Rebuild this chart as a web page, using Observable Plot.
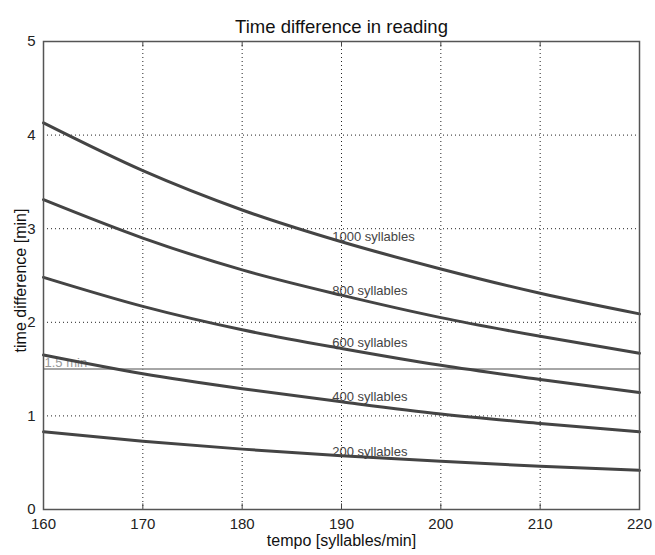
<!DOCTYPE html>
<html><head><meta charset="utf-8">
<script src="https://cdn.jsdelivr.net/npm/d3@7"></script>
<script src="https://cdn.jsdelivr.net/npm/@observablehq/plot@0.6"></script>
<style>
body{margin:0;background:#fff;}
#chart svg{display:block;font-family:"Liberation Sans",Arial,Helvetica,sans-serif;}
</style>
</head><body><div id="chart"></div><script>
const title = "Time difference in reading";
const xLabel = "tempo [syllables/min]";
const yLabel = "time difference [min]";
const tempo = [160, 170, 180, 190, 200, 210, 220];
const s1000 = [4.13, 3.62, 3.20, 2.86, 2.57, 2.31, 2.09];
const s800  = [3.31, 2.90, 2.56, 2.29, 2.05, 1.85, 1.67];
const s600  = [2.48, 2.17, 1.92, 1.72, 1.54, 1.39, 1.25];
const s400  = [1.65, 1.45, 1.29, 1.15, 1.02, 0.92, 0.83];
const s200  = [0.83, 0.73, 0.645, 0.575, 0.515, 0.462, 0.418];
const seriesNames = ["1000 syllables", "800 syllables", "600 syllables", "400 syllables", "200 syllables"];
const seriesValues = [s1000, s800, s600, s400, s200];
const labelX = 189.07;
const labelY = [2.91, 2.34, 1.78, 1.20, 0.62];
const refValue = 1.5;
const refLabel = "1.5 min";
const refLabelY = 1.563;
const xTicks = [160, 170, 180, 190, 200, 210, 220];
const yTicks = [0, 1, 2, 3, 4, 5];

const rows = [];
seriesNames.forEach((name, i) => tempo.forEach((t, j) => rows.push({series: name, tempo: t, value: seriesValues[i][j]})));
const labels = seriesNames.map((name, i) => ({name, x: labelX, y: labelY[i]}));

const chart = Plot.plot({
  width: 655, height: 555,
  marginLeft: 43, marginRight: 16, marginTop: 41, marginBottom: 46,
  style: {fontSize: "15px", color: "#222", background: "#fff"},
  x: {domain: [160, 220]},
  y: {domain: [0, 5]},
  marks: [
    Plot.gridX(xTicks.slice(1, -1), {stroke: "#222", strokeOpacity: 1, strokeDasharray: "1,3"}),
    Plot.gridY(yTicks.slice(1, -1), {stroke: "#222", strokeOpacity: 1, strokeDasharray: "1,3"}),
    Plot.ruleY([refValue], {stroke: "#888", strokeWidth: 1.5}),
    Plot.text([refLabel], {x: 160, y: refLabelY, text: d => d, textAnchor: "start", dx: 1, fill: "#999", fontSize: 13}),
    Plot.line(rows, {x: "tempo", y: "value", z: "series", stroke: "#444", strokeWidth: 3, curve: "monotone-x"}),
    Plot.text(labels, {x: "x", y: "y", text: "name", textAnchor: "start", fill: "#444", fontSize: 13}),
    Plot.ruleX(xTicks.slice(1, -1), {x: d => d, y1: 0, y2: 0.06, stroke: "#444"}),
    Plot.ruleX(xTicks.slice(1, -1), {x: d => d, y1: 4.94, y2: 5, stroke: "#444"}),
    Plot.frame({stroke: "#555", strokeWidth: 1.5}),
    Plot.axisX({ticks: xTicks, tickSize: 0, tickPadding: 9, label: null, fontSize: 15, tickFormat: "d"}),
    Plot.axisY({ticks: yTicks, tickSize: 0, tickPadding: 8, label: null, fontSize: 15, tickFormat: "d"}),
    Plot.text([title], {frameAnchor: "top", dy: -22, text: d => d, fontSize: 18.5, fill: "#111"}),
    Plot.text([xLabel], {frameAnchor: "bottom", dy: 36, text: d => d, fontSize: 16, fill: "#111"}),
    Plot.text([yLabel], {frameAnchor: "left", textAnchor: "middle", dx: -23, dy: 5, rotate: -90, text: d => d, fontSize: 16, fill: "#111"})
  ]
});
document.getElementById("chart").appendChild(chart);
</script></body></html>
